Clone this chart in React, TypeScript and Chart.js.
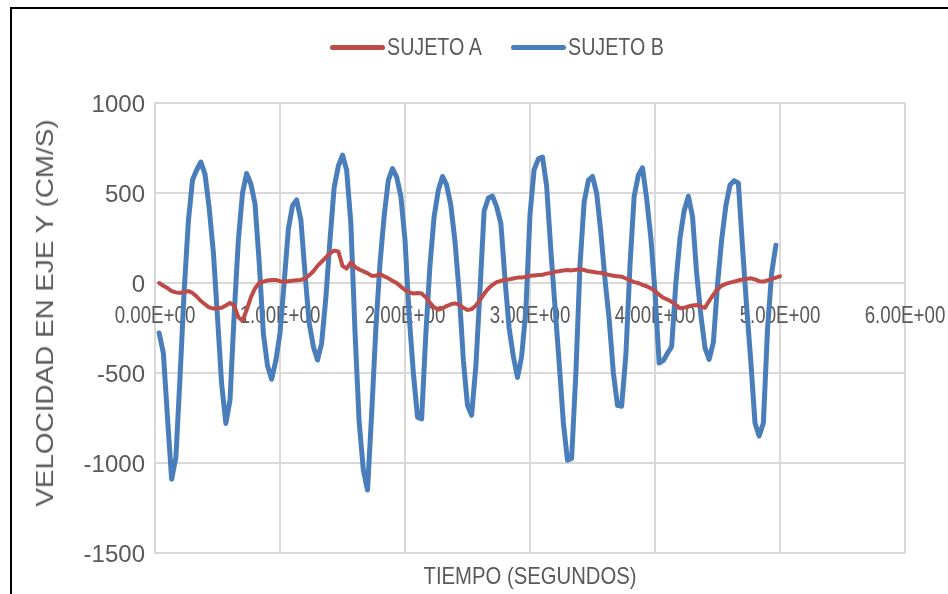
import React, { useEffect, useRef } from "react";
import { Chart, registerables } from "chart.js";

Chart.register(...registerables);

// Sample times (s)
const TIMES = [
  0.033, 0.067, 0.1, 0.133, 0.167, 0.2, 0.233, 0.267, 0.3, 0.333,
  0.367, 0.4, 0.433, 0.467, 0.5, 0.533, 0.567, 0.6, 0.633, 0.667,
  0.7, 0.733, 0.767, 0.8, 0.833, 0.867, 0.9, 0.933, 0.967, 1.0,
  1.033, 1.067, 1.1, 1.133, 1.167, 1.2, 1.233, 1.267, 1.3, 1.333,
  1.367, 1.4, 1.433, 1.467, 1.5, 1.533, 1.567, 1.6, 1.633, 1.667,
  1.7, 1.733, 1.767, 1.8, 1.833, 1.867, 1.9, 1.933, 1.967, 2.0,
  2.033, 2.067, 2.1, 2.133, 2.167, 2.2, 2.233, 2.267, 2.3, 2.333,
  2.367, 2.4, 2.433, 2.467, 2.5, 2.533, 2.567, 2.6, 2.633, 2.667,
  2.7, 2.733, 2.767, 2.8, 2.833, 2.867, 2.9, 2.933, 2.967, 3.0,
  3.033, 3.067, 3.1, 3.133, 3.167, 3.2, 3.233, 3.267, 3.3, 3.333,
  3.367, 3.4, 3.433, 3.467, 3.5, 3.533, 3.567, 3.6, 3.633, 3.667,
  3.7, 3.733, 3.767, 3.8, 3.833, 3.867, 3.9, 3.933, 3.967, 4.0,
  4.033, 4.067, 4.1, 4.133, 4.167, 4.2, 4.233, 4.267, 4.3, 4.333,
  4.367, 4.4, 4.433, 4.467, 4.5, 4.533, 4.567, 4.6, 4.633, 4.667,
  4.7, 4.733, 4.767, 4.8, 4.833, 4.867, 4.9, 4.933, 4.967, 5.0,
];

const SUJETO_A = [
  0, -15, -28, -45, -52, -55, -50, -45, -55, -75,
  -100, -118, -135, -142, -140, -138, -125, -110, -125, -190,
  -210, -150, -80, -30, 0, 8, 14, 17, 17, 10,
  7, 10, 13, 15, 17, 25, 42, 65, 95, 118,
  142, 165, 180, 175, 95, 80, 115, 90, 75, 65,
  55, 40, 40, 50, 38, 26, 12, 0, -20, -39,
  -52, -58, -55, -58, -80, -110, -135, -148, -140, -128,
  -118, -113, -120, -138, -150, -145, -125, -94, -60, -30,
  -10, 5, 12, 18, 20, 25, 30, 30, 35, 40,
  42, 44, 46, 52, 55, 62, 65, 70, 72, 70,
  74, 76, 72, 65, 62, 58, 57, 50, 45, 40,
  38, 35, 25, 15, 5, 0, -10, -18, -30, -45,
  -65, -82, -92, -104, -122, -140, -138, -130, -125, -122,
  -132, -138, -100, -65, -35, -15, -5, 2, 8, 14,
  20, 23, 26, 20, 10, 8, 15, 22, 30, 37,
];

const SUJETO_B = [
  -278, -390, -750, -1090, -970, -526, -48, 344, 572, 628,
  672, 605, 420, 170, -190, -560, -780, -650, -180, 239,
  500, 608, 550, 440, 120, -280, -460, -535, -430, -278,
  0, 300, 430, 462, 350, 55, -220, -354, -428, -335,
  -80, 239, 530, 650, 711, 628, 330, -270, -770, -1040,
  -1150, -730, -250, 110, 370, 572, 635, 590, 480, 239,
  -180, -500, -745, -755, -280, 100, 370, 517, 592, 545,
  430, 230, -50, -430, -680, -735, -460, -39, 400, 472,
  483, 424, 330, 20, -250, -409, -525, -409, -150, 380,
  630, 690, 700, 540, 180, -132, -440, -778, -985, -975,
  -500, 100, 450, 570, 592, 500, 280, 20, -200, -500,
  -680, -685, -400, 100, 480, 600, 640, 470, 250, -50,
  -445, -430, -390, -354, 0, 250, 400, 482, 370, 55,
  -180, -360, -425, -330, -10, 239, 430, 545, 568, 555,
  200, -132, -440, -778, -850, -778, -260, 55, 210,
];

const SERIES_NAMES = ["SUJETO A", "SUJETO B"];
const X_TICKS = [0, 1, 2, 3, 4, 5, 6];
const X_TICK_LABELS = ["0.00E+00", "1.00E+00", "2.00E+00", "3.00E+00", "4.00E+00", "5.00E+00", "6.00E+00"];
const Y_TICKS = [-1500, -1000, -500, 0, 500, 1000];
const Y_TICK_LABELS = ["-1500", "-1000", "-500", "0", "500", "1000"];
const X_TITLE = "TIEMPO (SEGUNDOS)";
const Y_TITLE = "VELOCIDAD EN EJE Y (CM/S)";

const RED = "#be4b48";
const BLUE = "#4a7ebb";
const GRID = "#d9d9d9";
const TEXT = "#595959";
const FONT = "'Liberation Sans', Arial, sans-serif";

// draws the tick labels of the chart's own scales with a condensed glyph shape
const condensedTicks = {
  id: "condensedTicks",
  beforeDatasetsDraw(chart: any) {
    const ctx = chart.ctx;
    const xs = chart.scales.x;
    const ys = chart.scales.y;
    const y0 = ys.getPixelForValue(0);
    ctx.save();
    ctx.fillStyle = TEXT;
    ctx.font = `24px ${FONT}`;
    ctx.textBaseline = "alphabetic";
    xs.ticks.forEach((t: any, i: number) => {
      const x = xs.getPixelForValue(t.value);
      ctx.save();
      ctx.translate(x, y0 + 40);
      ctx.scale(0.78, 1);
      ctx.textAlign = "center";
      ctx.fillText(X_TICK_LABELS[i], 0, 0);
      ctx.restore();
    });
    ys.ticks.forEach((t: any, i: number) => {
      const y = ys.getPixelForValue(t.value);
      ctx.save();
      ctx.translate(ys.right - 10, y + 8.5);
      ctx.textAlign = "right";
      ctx.fillText(Y_TICK_LABELS[i], 0, 0);
      ctx.restore();
    });
    ctx.restore();
  },
};

export default function App() {
  const ref = useRef<HTMLCanvasElement | null>(null);

  useEffect(() => {
    if (!ref.current) return;
    const chart = new Chart(ref.current, {
      type: "line",
      data: {
        datasets: [
          {
            label: SERIES_NAMES[0],
            data: SUJETO_A.map((v, i) => ({ x: TIMES[i], y: v })),
            borderColor: RED,
            backgroundColor: RED,
            borderWidth: 4,
            pointRadius: 0,
            tension: 0,
            borderJoinStyle: "round",
            borderCapStyle: "round",
            fill: false,
          },
          {
            label: SERIES_NAMES[1],
            data: SUJETO_B.map((v, i) => ({ x: TIMES[i], y: v })),
            borderColor: BLUE,
            backgroundColor: BLUE,
            borderWidth: 5,
            pointRadius: 0,
            tension: 0,
            borderJoinStyle: "round",
            borderCapStyle: "round",
            fill: false,
          },
        ],
      },
      options: {
        animation: false,
        responsive: false,
        devicePixelRatio: 1,
        layout: { padding: { left: 0, top: 103, right: 43, bottom: 41 } },
        plugins: { legend: { display: false }, tooltip: { enabled: false } },
        scales: {
          x: {
            type: "linear",
            min: 0,
            max: 6,
            position: { y: 0 },
            afterBuildTicks: (s: any) => {
              s.ticks = X_TICKS.map((v) => ({ value: v }));
            },
            afterFit: (s: any) => {
              s.paddingLeft = 0;
              s.paddingRight = 0;
              s.paddingTop = 0;
              s.paddingBottom = 0;
            },
            ticks: { display: false },
            grid: { color: GRID, lineWidth: 2, drawTicks: false },
            border: { color: GRID, width: 2 },
          },
          y: {
            type: "linear",
            min: -1500,
            max: 1000,
            afterBuildTicks: (s: any) => {
              s.ticks = Y_TICKS.map((v) => ({ value: v }));
            },
            afterFit: (s: any) => {
              s.width = 155;
              s.paddingTop = 0;
              s.paddingBottom = 0;
            },
            ticks: { display: false },
            grid: { color: GRID, lineWidth: 2, drawTicks: false },
            border: { color: GRID, width: 2 },
          },
        },
      },
      plugins: [condensedTicks],
    } as any);
    return () => chart.destroy();
  }, []);

  const textStyle: React.CSSProperties = {
    position: "absolute",
    fontFamily: FONT,
    fontSize: 24,
    lineHeight: "24px",
    color: TEXT,
    whiteSpace: "nowrap",
  };

  return (
    <div style={{ position: "fixed", left: 0, top: 0, width: 948, height: 594, overflow: "hidden", background: "#fff" }}>
      <div
        style={{
          position: "absolute",
          left: 10,
          top: 7,
          width: 1200,
          height: 1000,
          borderLeft: "2px solid #000",
          borderTop: "2px solid #000",
        }}
      />
      <canvas ref={ref} width={948} height={594} style={{ position: "absolute", left: 0, top: 0, width: 948, height: 594 }} />
      {/* legend */}
      <div style={{ position: "absolute", left: 330, top: 45, width: 55, height: 5, borderRadius: 3, background: RED }} />
      <div style={{ ...textStyle, left: 387, top: 35, transform: "scaleX(0.82)", transformOrigin: "left center" }}>
        {SERIES_NAMES[0]}
      </div>
      <div style={{ position: "absolute", left: 511, top: 45, width: 55, height: 5, borderRadius: 3, background: BLUE }} />
      <div style={{ ...textStyle, left: 568, top: 35, transform: "scaleX(0.82)", transformOrigin: "left center" }}>
        {SERIES_NAMES[1]}
      </div>
      {/* axis titles */}
      <div style={{ ...textStyle, left: 530, top: 564, transform: "translateX(-50%) scaleX(0.845)" }}>{X_TITLE}</div>
      <div
        style={{
          ...textStyle,
          left: 45,
          top: 313,
          transform: "translate(-50%, -50%) rotate(-90deg) scaleX(1.16)",
        }}
      >
        {Y_TITLE}
      </div>
    </div>
  );
}
